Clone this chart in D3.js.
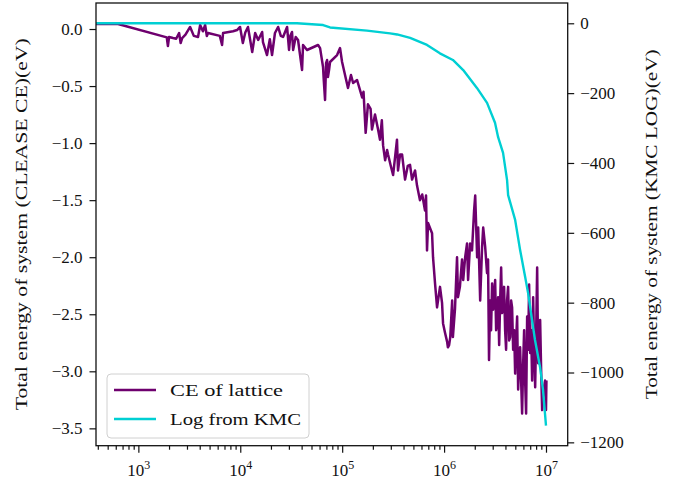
<!DOCTYPE html>
<html>
<head>
<meta charset="utf-8">
<script src="https://cdn.jsdelivr.net/npm/d3@7"></script>
<style>
  html, body { margin: 0; padding: 0; background: #fff; }
  svg { display: block; }
  text { font-family: "Liberation Serif", "DejaVu Serif", serif; fill: #111; }
</style>
</head>
<body>
<svg id="chart" width="687" height="487"></svg>
<script>
// Monte Carlo step counts and energies of the cluster-expansion (CE) lattice
const ceSteps = [
  1, 632, 1900, 1950, 2000, 2190, 2350, 2510, 2600, 2690, 2900, 3220, 3500, 3850, 4040, 4300, 4520, 4700, 4830,
  6300, 6630, 6780, 8500, 9300, 9950, 1.06e4, 1.12e4, 1.19e4, 1.31e4, 1.40e4, 1.50e4, 1.64e4, 1.67e4, 1.83e4,
  1.95e4, 2.05e4, 2.19e4, 2.35e4, 2.50e4, 2.63e4, 2.88e4, 3.01e4, 3.10e4, 3.22e4, 3.30e4, 3.50e4, 3.69e4,
  4.04e4, 4.13e4, 4.52e4, 5.80e4, 6.07e4, 6.49e4, 6.60e4, 6.79e4, 6.95e4, 7.11e4, 7.25e4, 7.43e4, 7.60e4,
  8.91e4, 9.53e4, 9.98e4, 1.14e5, 1.22e5, 1.28e5, 1.40e5, 1.57e5, 1.62e5, 1.70e5, 1.79e5, 1.90e5, 1.96e5,
  2.10e5, 2.25e5, 2.35e5, 2.45e5, 2.52e5, 2.64e5, 2.76e5, 2.82e5, 3.00e5, 3.16e5, 3.45e5, 3.53e5, 3.70e5,
  3.87e5, 4.14e5, 4.40e5, 4.63e5, 4.85e5, 5.19e5, 5.42e5, 5.80e5, 6.10e5, 6.50e5, 6.65e5, 6.80e5, 6.96e5,
  7.62e5, 7.79e5, 8.15e5, 8.53e5, 9.12e5, 9.55e5, 9.77e5, 1.02e6, 1.07e6, 1.09e6, 1.12e6, 1.15e6, 1.20e6,
  1.22e6, 1.28e6, 1.34e6, 1.37e6, 1.43e6, 1.50e6, 1.54e6, 1.61e6, 1.68e6, 1.72e6, 1.80e6, 1.88e6, 1.97e6,
  2.02e6, 2.11e6, 2.16e6, 2.26e6, 2.36e6, 2.42e6, 2.53e6, 2.64e6, 2.70e6, 2.76e6, 2.83e6, 2.89e6, 2.96e6,
  3.03e6, 3.17e6, 3.24e6, 3.31e6, 3.39e6, 3.47e6, 3.55e6, 3.63e6, 3.71e6, 3.80e6, 3.88e6, 3.97e6, 4.06e6,
  4.15e6, 4.25e6, 4.35e6, 4.45e6, 4.55e6, 4.65e6, 4.76e6, 4.87e6, 4.98e6, 5.09e6, 5.21e6, 5.33e6, 5.45e6,
  5.57e6, 5.70e6, 5.83e6, 5.97e6, 6.10e6, 6.24e6, 6.38e6, 6.53e6, 6.68e6, 6.83e6, 6.99e6, 7.15e6, 7.31e6,
  7.48e6, 7.65e6, 7.83e6, 8.01e6, 8.19e6, 8.38e6, 8.57e6, 8.76e6, 8.96e6, 9.17e6, 9.38e6, 9.80e6, 1.00e7,
  1.01e7
];
const ceEnergy = [
  0.044, 0.044, -0.073, -0.149, -0.070, -0.079, -0.085, -0.035, -0.123, -0.079, -0.050, 0.018, -0.060, -0.070, 0.035, -0.020, 0.035, -0.061, -0.035,
  -0.060, -0.140, -0.035, -0.020, -0.009, 0.018, -0.123, -0.030, 0.018, -0.202, -0.035, -0.096, -0.026, -0.114, -0.228,
  -0.090, -0.228, -0.035, 0.018, -0.060, -0.070, 0.018, -0.184, -0.060, -0.026, -0.184, -0.070, -0.096,
  -0.359, -0.140, -0.184, -0.140, -0.167, -0.333, -0.450, -0.622, -0.300, -0.272, -0.420, -0.359, -0.289,
  -0.228, -0.167, -0.289, -0.517, -0.403, -0.473, -0.447, -0.600, -0.550, -0.910, -0.660, -0.700, -0.880,
  -0.750, -0.880, -0.970, -0.800, -1.020, -1.150, -1.060, -1.100, -1.200, -1.280, -0.970, -1.240, -1.100,
  -1.100, -1.320, -1.200, -1.190, -1.320, -1.240, -1.370, -1.500, -1.450, -1.590, -1.460, -1.940, -1.700,
  -1.790, -2.000, -2.230, -2.440, -2.260, -2.400, -2.580, -2.660, -2.740, -2.790, -2.770, -2.700, -2.380,
  -2.700, -2.450, -2.000, -2.350, -2.260, -2.020, -2.200, -2.000, -1.880, -2.200, -1.880, -1.940, -1.590,
  -1.460, -2.000, -1.740, -2.380, -1.910, -1.740, -1.910, -2.140, -2.020, -2.900, -2.380, -2.640, -2.230,
  -2.460, -2.200, -2.640, -2.550, -2.350, -2.770, -2.380, -2.090, -2.490, -2.380, -2.260, -2.640, -2.810,
  -2.380, -2.260, -2.730, -2.700, -2.380, -2.440, -2.810, -2.640, -3.020, -2.730, -2.520, -3.160, -2.930,
  -2.790, -3.080, -3.370, -2.930, -2.640, -3.080, -3.370, -2.520, -2.810, -2.240, -2.840, -2.640, -3.080,
  -2.350, -2.810, -3.140, -2.640, -2.090, -2.930, -2.730, -2.550, -2.990, -3.340, -3.190, -3.080, -3.340,
  -3.080
];

// Energy log written by the kinetic Monte Carlo run
const kmcSteps = [
  1, 3.6e4, 6.5e4, 7.6e4, 1.75e5, 2.95e5, 3.46e5, 4.64e5, 6.8e5, 9.1e5, 1.22e6, 1.54e6, 2.1e6, 2.64e6,
  3.16e6, 3.39e6, 3.79e6, 4.15e6, 4.25e6, 4.98e6, 5.57e6, 6.24e6, 6.67e6, 7.3e6, 7.8e6, 8.74e6, 9.35e6, 1.0e7
];
const kmcEnergy = [
  0, 0, -5, -12, -21, -29, -32, -42, -62, -86, -105, -134, -185, -228,
  -285, -326, -371, -449, -492, -563, -649, -726, -772, -850, -907, -984, -1050, -1152
];

// Axis ticks
const xMajorTicks = [1e3, 1e4, 1e5, 1e6, 1e7];
const xTickExponents = ["3", "4", "5", "6", "7"];
const leftTicks = [0.0, -0.5, -1.0, -1.5, -2.0, -2.5, -3.0, -3.5];
const rightTicks = [0, -200, -400, -600, -800, -1000, -1200];

const seriesNames = ["CE of lattice", "Log from KMC"];
const seriesColors = ["#6e006e", "#00cfd3"];

const svg = d3.select("#chart");
const plot = { left: 96, right: 567.7, top: 3, bottom: 445.7 };

const x = d3.scaleLog().domain([384, 1.633e7]).range([plot.left, plot.right]);
const yL = d3.scaleLinear().domain([-3.652, 0.228]).range([plot.bottom, plot.top]);
const yR = d3.scaleLinear().domain([-1209.6, 58.1]).range([plot.bottom, plot.top]);

svg.append("defs").append("clipPath").attr("id", "plotClip")
  .append("rect")
  .attr("x", plot.left).attr("y", plot.top)
  .attr("width", plot.right - plot.left).attr("height", plot.bottom - plot.top);

const lines = svg.append("g").attr("clip-path", "url(#plotClip)");

const ceData = ceSteps.map((s, i) => [s, ceEnergy[i]]);
const kmcData = kmcSteps.map((s, i) => [s, kmcEnergy[i]]);

lines.append("path")
  .datum(ceData)
  .attr("fill", "none")
  .attr("stroke", seriesColors[0])
  .attr("stroke-width", 2.5)
  .attr("stroke-linejoin", "round")
  .attr("d", d3.line().x(d => x(d[0])).y(d => yL(d[1])));

lines.append("path")
  .datum(kmcData)
  .attr("fill", "none")
  .attr("stroke", seriesColors[1])
  .attr("stroke-width", 2.4)
  .attr("stroke-linejoin", "round")
  .attr("d", d3.line().x(d => x(d[0])).y(d => yR(d[1])));

// Frame
svg.append("rect")
  .attr("x", plot.left).attr("y", plot.top)
  .attr("width", plot.right - plot.left).attr("height", plot.bottom - plot.top)
  .attr("fill", "none").attr("stroke", "#111").attr("stroke-width", 1.3);

// Left axis
const gL = svg.append("g").attr("transform", `translate(${plot.left},0)`)
  .call(d3.axisLeft(yL).tickValues(leftTicks).tickSize(6.5).tickPadding(7)
    .tickFormat(v => (v < 0 ? "\u2212" : "") + Math.abs(v).toFixed(1)));
// Right axis
const gR = svg.append("g").attr("transform", `translate(${plot.right},0)`)
  .call(d3.axisRight(yR).tickValues(rightTicks).tickSize(6.5).tickPadding(6)
    .tickFormat(v => (v < 0 ? "\u2212" : "") + Math.abs(v)));
// Bottom axis: minor and major decade ticks
const minorTicks = [];
for (let e = 2; e <= 7; e++) {
  for (let k = 2; k <= 9; k++) {
    const v = k * Math.pow(10, e);
    if (v >= x.domain()[0] && v <= x.domain()[1]) minorTicks.push(v);
  }
}
const gBminor = svg.append("g").attr("transform", `translate(0,${plot.bottom})`)
  .call(d3.axisBottom(x).tickValues(minorTicks).tickSize(4).tickFormat(""));
const gB = svg.append("g").attr("transform", `translate(0,${plot.bottom})`)
  .call(d3.axisBottom(x).tickValues(xMajorTicks).tickSize(7).tickPadding(8).tickFormat(""));

[gL, gR, gB, gBminor].forEach(g => {
  g.select(".domain").remove();
  g.selectAll(".tick line").attr("stroke", "#111").attr("stroke-width", 1.2);
  g.selectAll("text").style("font-family", "'Liberation Serif', serif").style("font-size", "17px").attr("fill", "#111");
});

// Decade labels 10^n
gB.selectAll(".tick").each(function(d, i) {
  const t = d3.select(this).append("text")
    .attr("y", 30).attr("text-anchor", "middle")
    .style("font-family", "'Liberation Serif', serif").style("font-size", "17px").attr("fill", "#111");
  t.append("tspan").text("10");
  t.append("tspan").attr("dy", -7).style("font-size", "12px").text(xTickExponents[i]);
});

// Axis titles
svg.append("text")
  .attr("transform", `translate(27,${(plot.top + plot.bottom) / 2}) rotate(-90)`)
  .attr("text-anchor", "middle")
  .style("font-size", "16px")
  .attr("textLength", 372).attr("lengthAdjust", "spacingAndGlyphs")
  .text("Total energy of system (CLEASE CE)(eV)");

svg.append("text")
  .attr("transform", `translate(657,${(plot.top + plot.bottom) / 2}) rotate(-90)`)
  .attr("text-anchor", "middle")
  .style("font-size", "16px")
  .attr("textLength", 350).attr("lengthAdjust", "spacingAndGlyphs")
  .text("Total energy of system (KMC LOG)(eV)");

// Legend
const legendTextLength = [113, 131];
const lg = svg.append("g");
lg.append("rect")
  .attr("x", 107).attr("y", 374).attr("width", 202).attr("height", 64)
  .attr("rx", 4).attr("fill", "#fff").attr("fill-opacity", 0.8)
  .attr("stroke", "#d0d0d0").attr("stroke-width", 1);
seriesNames.forEach((name, i) => {
  const cy = 390 + i * 29;
  lg.append("line").attr("x1", 114).attr("x2", 156).attr("y1", cy).attr("y2", cy)
    .attr("stroke", seriesColors[i]).attr("stroke-width", 2.4);
  lg.append("text").attr("x", 170).attr("y", cy + 6)
    .style("font-size", "17px")
    .attr("textLength", legendTextLength[i]).attr("lengthAdjust", "spacingAndGlyphs")
    .text(name);
});
</script>
</body>
</html>
